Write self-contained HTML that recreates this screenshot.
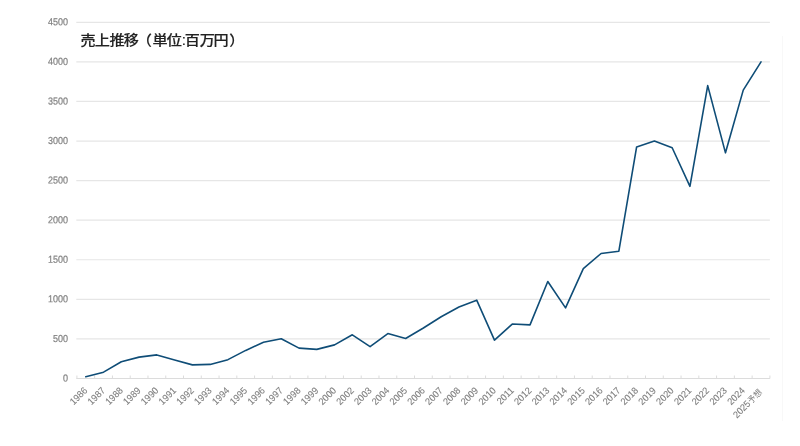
<!DOCTYPE html>
<html lang="ja"><head><meta charset="utf-8"><title>売上推移</title>
<style>
html,body{margin:0;padding:0;background:#fff;}
body{width:800px;height:446px;overflow:hidden;font-family:"Liberation Sans","Noto Sans CJK JP",sans-serif;}
svg{display:block;}
.yl{font-size:10.1px;fill:#808080;text-anchor:end;stroke:#808080;stroke-width:0.2px;}
.xl{font-size:9.7px;fill:#808080;text-anchor:end;stroke:#808080;stroke-width:0.12px;}
.t{font-size:14px;fill:#222;font-weight:500;stroke:#222;stroke-width:0.15px;}
</style></head><body>
<svg width="800" height="446" viewBox="0 0 800 446" font-family="'Liberation Sans','Noto Sans CJK JP',sans-serif">
<rect width="800" height="446" fill="#fff"/>
<line x1="782.5" y1="36" x2="782.5" y2="421" stroke="#f8f8f8" stroke-width="1"/>

<line x1="76.3" y1="378.50" x2="769.9" y2="378.50" stroke="#dcdcdc" stroke-width="1.2"/>
<text class="yl" transform="translate(68,381.50) rotate(0.03) scale(0.89,1)">0</text>
<line x1="76.3" y1="338.92" x2="769.9" y2="338.92" stroke="#e6e6e6" stroke-width="1.2"/>
<text class="yl" transform="translate(68,341.92) rotate(0.03) scale(0.89,1)">500</text>
<line x1="76.3" y1="299.34" x2="769.9" y2="299.34" stroke="#e6e6e6" stroke-width="1.2"/>
<text class="yl" transform="translate(68,302.34) rotate(0.03) scale(0.89,1)">1000</text>
<line x1="76.3" y1="259.77" x2="769.9" y2="259.77" stroke="#e6e6e6" stroke-width="1.2"/>
<text class="yl" transform="translate(68,262.77) rotate(0.03) scale(0.89,1)">1500</text>
<line x1="76.3" y1="220.19" x2="769.9" y2="220.19" stroke="#e6e6e6" stroke-width="1.2"/>
<text class="yl" transform="translate(68,223.19) rotate(0.03) scale(0.89,1)">2000</text>
<line x1="76.3" y1="180.61" x2="769.9" y2="180.61" stroke="#e6e6e6" stroke-width="1.2"/>
<text class="yl" transform="translate(68,183.61) rotate(0.03) scale(0.89,1)">2500</text>
<line x1="76.3" y1="141.03" x2="769.9" y2="141.03" stroke="#e6e6e6" stroke-width="1.2"/>
<text class="yl" transform="translate(68,144.03) rotate(0.03) scale(0.89,1)">3000</text>
<line x1="76.3" y1="101.46" x2="769.9" y2="101.46" stroke="#e6e6e6" stroke-width="1.2"/>
<text class="yl" transform="translate(68,104.46) rotate(0.03) scale(0.89,1)">3500</text>
<line x1="76.3" y1="61.88" x2="769.9" y2="61.88" stroke="#e6e6e6" stroke-width="1.2"/>
<text class="yl" transform="translate(68,64.88) rotate(0.03) scale(0.89,1)">4000</text>
<line x1="76.3" y1="22.30" x2="769.9" y2="22.30" stroke="#e6e6e6" stroke-width="1.2"/>
<text class="yl" transform="translate(68,25.30) rotate(0.03) scale(0.89,1)">4500</text>
<line x1="76.90" y1="378.50" x2="76.90" y2="375.50" stroke="#dcdcdc" stroke-width="1"/>
<line x1="94.67" y1="378.50" x2="94.67" y2="375.50" stroke="#dcdcdc" stroke-width="1"/>
<line x1="112.44" y1="378.50" x2="112.44" y2="375.50" stroke="#dcdcdc" stroke-width="1"/>
<line x1="130.21" y1="378.50" x2="130.21" y2="375.50" stroke="#dcdcdc" stroke-width="1"/>
<line x1="147.98" y1="378.50" x2="147.98" y2="375.50" stroke="#dcdcdc" stroke-width="1"/>
<line x1="165.75" y1="378.50" x2="165.75" y2="375.50" stroke="#dcdcdc" stroke-width="1"/>
<line x1="183.52" y1="378.50" x2="183.52" y2="375.50" stroke="#dcdcdc" stroke-width="1"/>
<line x1="201.28" y1="378.50" x2="201.28" y2="375.50" stroke="#dcdcdc" stroke-width="1"/>
<line x1="219.05" y1="378.50" x2="219.05" y2="375.50" stroke="#dcdcdc" stroke-width="1"/>
<line x1="236.82" y1="378.50" x2="236.82" y2="375.50" stroke="#dcdcdc" stroke-width="1"/>
<line x1="254.59" y1="378.50" x2="254.59" y2="375.50" stroke="#dcdcdc" stroke-width="1"/>
<line x1="272.36" y1="378.50" x2="272.36" y2="375.50" stroke="#dcdcdc" stroke-width="1"/>
<line x1="290.13" y1="378.50" x2="290.13" y2="375.50" stroke="#dcdcdc" stroke-width="1"/>
<line x1="307.90" y1="378.50" x2="307.90" y2="375.50" stroke="#dcdcdc" stroke-width="1"/>
<line x1="325.67" y1="378.50" x2="325.67" y2="375.50" stroke="#dcdcdc" stroke-width="1"/>
<line x1="343.44" y1="378.50" x2="343.44" y2="375.50" stroke="#dcdcdc" stroke-width="1"/>
<line x1="361.21" y1="378.50" x2="361.21" y2="375.50" stroke="#dcdcdc" stroke-width="1"/>
<line x1="378.98" y1="378.50" x2="378.98" y2="375.50" stroke="#dcdcdc" stroke-width="1"/>
<line x1="396.75" y1="378.50" x2="396.75" y2="375.50" stroke="#dcdcdc" stroke-width="1"/>
<line x1="414.52" y1="378.50" x2="414.52" y2="375.50" stroke="#dcdcdc" stroke-width="1"/>
<line x1="432.28" y1="378.50" x2="432.28" y2="375.50" stroke="#dcdcdc" stroke-width="1"/>
<line x1="450.05" y1="378.50" x2="450.05" y2="375.50" stroke="#dcdcdc" stroke-width="1"/>
<line x1="467.82" y1="378.50" x2="467.82" y2="375.50" stroke="#dcdcdc" stroke-width="1"/>
<line x1="485.59" y1="378.50" x2="485.59" y2="375.50" stroke="#dcdcdc" stroke-width="1"/>
<line x1="503.36" y1="378.50" x2="503.36" y2="375.50" stroke="#dcdcdc" stroke-width="1"/>
<line x1="521.13" y1="378.50" x2="521.13" y2="375.50" stroke="#dcdcdc" stroke-width="1"/>
<line x1="538.90" y1="378.50" x2="538.90" y2="375.50" stroke="#dcdcdc" stroke-width="1"/>
<line x1="556.67" y1="378.50" x2="556.67" y2="375.50" stroke="#dcdcdc" stroke-width="1"/>
<line x1="574.44" y1="378.50" x2="574.44" y2="375.50" stroke="#dcdcdc" stroke-width="1"/>
<line x1="592.21" y1="378.50" x2="592.21" y2="375.50" stroke="#dcdcdc" stroke-width="1"/>
<line x1="609.98" y1="378.50" x2="609.98" y2="375.50" stroke="#dcdcdc" stroke-width="1"/>
<line x1="627.75" y1="378.50" x2="627.75" y2="375.50" stroke="#dcdcdc" stroke-width="1"/>
<line x1="645.52" y1="378.50" x2="645.52" y2="375.50" stroke="#dcdcdc" stroke-width="1"/>
<line x1="663.28" y1="378.50" x2="663.28" y2="375.50" stroke="#dcdcdc" stroke-width="1"/>
<line x1="681.05" y1="378.50" x2="681.05" y2="375.50" stroke="#dcdcdc" stroke-width="1"/>
<line x1="698.82" y1="378.50" x2="698.82" y2="375.50" stroke="#dcdcdc" stroke-width="1"/>
<line x1="716.59" y1="378.50" x2="716.59" y2="375.50" stroke="#dcdcdc" stroke-width="1"/>
<line x1="734.36" y1="378.50" x2="734.36" y2="375.50" stroke="#dcdcdc" stroke-width="1"/>
<line x1="752.13" y1="378.50" x2="752.13" y2="375.50" stroke="#dcdcdc" stroke-width="1"/>
<line x1="769.90" y1="378.50" x2="769.90" y2="375.50" stroke="#dcdcdc" stroke-width="1"/>
<text class="xl" transform="translate(87.98,391.20) rotate(-45) scale(0.935,1)">1986</text>
<text class="xl" transform="translate(105.75,391.20) rotate(-45) scale(0.935,1)">1987</text>
<text class="xl" transform="translate(123.52,391.20) rotate(-45) scale(0.935,1)">1988</text>
<text class="xl" transform="translate(141.29,391.20) rotate(-45) scale(0.935,1)">1989</text>
<text class="xl" transform="translate(159.06,391.20) rotate(-45) scale(0.935,1)">1990</text>
<text class="xl" transform="translate(176.83,391.20) rotate(-45) scale(0.935,1)">1991</text>
<text class="xl" transform="translate(194.60,391.20) rotate(-45) scale(0.935,1)">1992</text>
<text class="xl" transform="translate(212.37,391.20) rotate(-45) scale(0.935,1)">1993</text>
<text class="xl" transform="translate(230.14,391.20) rotate(-45) scale(0.935,1)">1994</text>
<text class="xl" transform="translate(247.91,391.20) rotate(-45) scale(0.935,1)">1995</text>
<text class="xl" transform="translate(265.68,391.20) rotate(-45) scale(0.935,1)">1996</text>
<text class="xl" transform="translate(283.45,391.20) rotate(-45) scale(0.935,1)">1997</text>
<text class="xl" transform="translate(301.22,391.20) rotate(-45) scale(0.935,1)">1998</text>
<text class="xl" transform="translate(318.98,391.20) rotate(-45) scale(0.935,1)">1999</text>
<text class="xl" transform="translate(336.75,391.20) rotate(-45) scale(0.935,1)">2000</text>
<text class="xl" transform="translate(354.52,391.20) rotate(-45) scale(0.935,1)">2002</text>
<text class="xl" transform="translate(372.29,391.20) rotate(-45) scale(0.935,1)">2003</text>
<text class="xl" transform="translate(390.06,391.20) rotate(-45) scale(0.935,1)">2004</text>
<text class="xl" transform="translate(407.83,391.20) rotate(-45) scale(0.935,1)">2005</text>
<text class="xl" transform="translate(425.60,391.20) rotate(-45) scale(0.935,1)">2006</text>
<text class="xl" transform="translate(443.37,391.20) rotate(-45) scale(0.935,1)">2007</text>
<text class="xl" transform="translate(461.14,391.20) rotate(-45) scale(0.935,1)">2008</text>
<text class="xl" transform="translate(478.91,391.20) rotate(-45) scale(0.935,1)">2009</text>
<text class="xl" transform="translate(496.68,391.20) rotate(-45) scale(0.935,1)">2010</text>
<text class="xl" transform="translate(514.45,391.20) rotate(-45) scale(0.935,1)">2011</text>
<text class="xl" transform="translate(532.22,391.20) rotate(-45) scale(0.935,1)">2012</text>
<text class="xl" transform="translate(549.98,391.20) rotate(-45) scale(0.935,1)">2013</text>
<text class="xl" transform="translate(567.75,391.20) rotate(-45) scale(0.935,1)">2014</text>
<text class="xl" transform="translate(585.52,391.20) rotate(-45) scale(0.935,1)">2015</text>
<text class="xl" transform="translate(603.29,391.20) rotate(-45) scale(0.935,1)">2016</text>
<text class="xl" transform="translate(621.06,391.20) rotate(-45) scale(0.935,1)">2017</text>
<text class="xl" transform="translate(638.83,391.20) rotate(-45) scale(0.935,1)">2018</text>
<text class="xl" transform="translate(656.60,391.20) rotate(-45) scale(0.935,1)">2019</text>
<text class="xl" transform="translate(674.37,391.20) rotate(-45) scale(0.935,1)">2020</text>
<text class="xl" transform="translate(692.14,391.20) rotate(-45) scale(0.935,1)">2021</text>
<text class="xl" transform="translate(709.91,391.20) rotate(-45) scale(0.935,1)">2022</text>
<text class="xl" transform="translate(727.68,391.20) rotate(-45) scale(0.935,1)">2023</text>
<text class="xl" transform="translate(745.45,391.20) rotate(-45) scale(0.935,1)">2024</text>
<text class="xl" transform="translate(762.80,392.80) rotate(-45) scale(0.935,1)">2025<tspan font-size="8.6" dx="0.2" stroke="none" letter-spacing="0.1">予想</tspan></text>
<polyline points="85.78,376.68 103.55,372.17 121.32,361.72 139.09,357.13 156.86,354.91 174.63,359.90 192.40,364.89 210.17,364.41 227.94,359.66 245.71,350.40 263.48,342.33 281.25,338.76 299.02,348.10 316.78,349.37 334.55,344.86 352.32,334.81 370.09,346.60 387.86,333.54 405.63,338.53 423.40,328.00 441.17,316.76 458.94,307.02 476.71,300.14 494.48,340.11 512.25,324.04 530.02,324.83 547.78,281.53 565.55,307.89 583.32,268.55 601.09,253.51 618.86,251.22 636.63,146.97 654.40,141.03 672.17,147.76 689.94,186.31 707.71,85.62 725.48,152.83 743.25,90.14 761.02,61.88" fill="none" stroke="#0f4d77" stroke-width="1.6" stroke-linejoin="round" stroke-linecap="round"/>
<text class="t" transform="translate(0,45.1) scale(1.08,1)" x="74.44 87.67 101.35 114.50 126.66 141.24 154.46 168.40 171.09 184.84 197.72 212.21" y="0">売上推移（単位:百万円）</text>
</svg></body></html>
